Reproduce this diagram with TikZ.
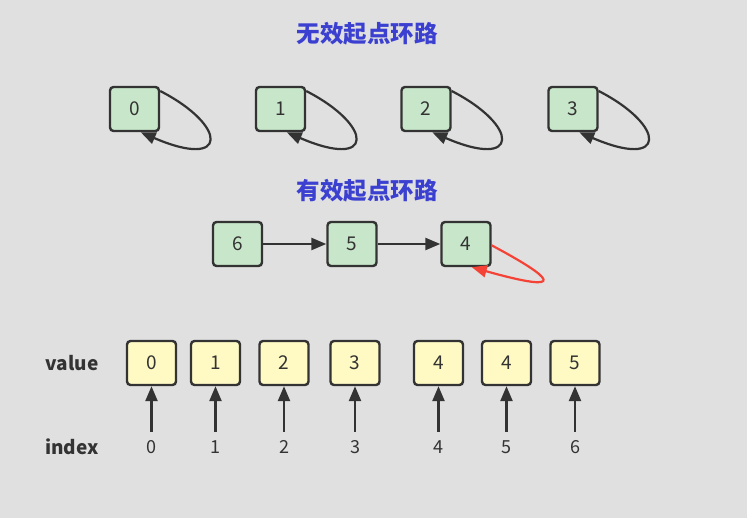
\documentclass[tikz,border=0pt]{standalone}
\usepackage{fontspec}
\setmainfont{Noto Sans CJK SC}
\usetikzlibrary{arrows.meta}

\definecolor{bggray}{HTML}{E0E0E0}
\definecolor{inkgray}{HTML}{333333}
\definecolor{nodegreen}{HTML}{C8E6C9}
\definecolor{cellyellow}{HTML}{FFF9C4}
\definecolor{titleblue}{HTML}{3B40D0}
\definecolor{loopred}{HTML}{F44336}

\tikzset{
  box/.style={draw=inkgray, line width=2.4pt, rounded corners=3.5pt,
    minimum width=49pt, minimum height=44pt, inner sep=0pt,
    text=inkgray, font=\fontsize{19}{19}\selectfont},
  greenbox/.style={box, fill=nodegreen},
  cellbox/.style={box, fill=cellyellow},
  title/.style={text=titleblue, font=\fontsize{23.5}{23.5}\selectfont\bfseries},
  rowlabel/.style={text=inkgray, font=\fontsize{19}{19}\selectfont\bfseries},
  idx/.style={text=inkgray, font=\fontsize{18}{18}\selectfont},
  link/.style={draw=inkgray, line width=2.4pt,
    -{Triangle[length=15pt, width=12pt]}},
  selfloop/.style={link, line width=2.2pt},
  redloop/.style={link, draw=loopred, line width=2.2pt}
}

\begin{document}
\begin{tikzpicture}[x=1pt, y=-1pt]
  \fill[bggray] (0,0) rectangle (747,518);
  \useasboundingbox (0,0) rectangle (747,518);

  %% top: four nodes that only point at themselves
  \node[title] (t1) at (367,34) {无效起点环路};
  \foreach \i/\x in {0/134.5, 1/280.5, 2/426, 3/573} {
    \node[greenbox] (a\i) at (\x,109) {\i};
    \draw[selfloop] (a\i.35) .. controls +(68,35) and +(88,38) .. (a\i.-75);
  }

  %% middle: chain 6 -> 5 -> 4 with the cycle on 4
  \node[title] (t2) at (367,191) {有效起点环路};
  \node[greenbox] (b6) at (237.5,244) {6};
  \node[greenbox] (b5) at (352,244) {5};
  \node[greenbox] (b4) at (466,244) {4};
  \draw[link] (b6) -- (b5);
  \draw[link] (b5) -- (b4);
  \draw[redloop] (b4.-3) .. controls +(60,32) and +(100,28) .. (b4.-76);

  %% bottom: the array, value above index
  \def\vals{{0,1,2,3,4,4,5}}
  \def\xs{{151.5,215.5,284,355,438.5,506.5,575}}
  \node[rowlabel] (lv) at (72,363) {value};
  \node[rowlabel] (li) at (72,447) {index};
  \foreach \c in {0,...,6} {
    \pgfmathsetmacro{\px}{\xs[\c]}
    \pgfmathtruncatemacro{\v}{\vals[\c]}
    \node[cellbox] (v\c) at (\px,363) {\v};
    \node[idx] (i\c) at (\px,447) {\c};
    \draw[link] ([yshift=5pt]i\c.north) -- (v\c.south);
  }
\end{tikzpicture}
\end{document}
